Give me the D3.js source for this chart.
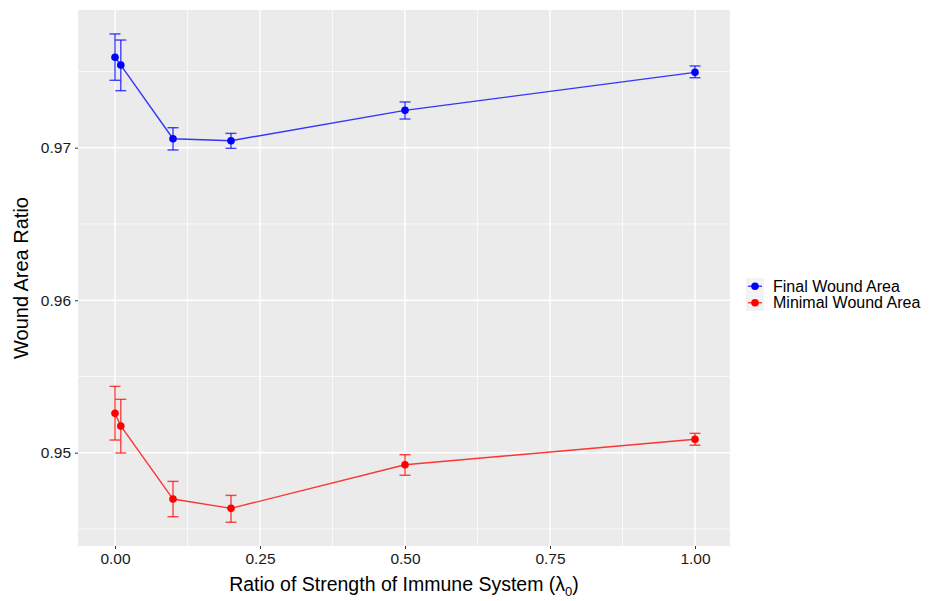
<!DOCTYPE html>
<html>
<head>
<meta charset="utf-8">
<script src="https://cdn.jsdelivr.net/npm/d3@7"></script>
<style>
  html, body { margin: 0; padding: 0; background: #fff; }
  svg { display: block; font-family: "Liberation Sans", Arial, Helvetica, sans-serif; }
</style>
</head>
<body>
<svg id="chart" width="936" height="601"></svg>
<script>
// ---- data ----
const lambda = [0, 0.01, 0.1, 0.2, 0.5, 1.0];
const finalMean = [0.97593, 0.97542, 0.97059, 0.97046, 0.97245, 0.97494];
const finalLo   = [0.97442, 0.97374, 0.96985, 0.96996, 0.97188, 0.97459];
const finalHi   = [0.97746, 0.97706, 0.97131, 0.97094, 0.97300, 0.97536];
const minMean   = [0.95258, 0.95175, 0.94696, 0.94635, 0.94921, 0.95088];
const minLo     = [0.95083, 0.94998, 0.94580, 0.94544, 0.94852, 0.95049];
const minHi     = [0.95435, 0.95350, 0.94812, 0.94720, 0.94987, 0.95127];
const seriesNames = ["Final Wound Area", "Minimal Wound Area"];
const seriesColors = ["#0000FF", "#FF0000"];
const xTicks = [0, 0.25, 0.5, 0.75, 1.0];
const xTickLabels = ["0.00", "0.25", "0.50", "0.75", "1.00"];
const xMinor = [0.125, 0.375, 0.625, 0.875];
const yTicks = [0.95, 0.96, 0.97];
const yTickLabels = ["0.95", "0.96", "0.97"];
const yMinor = [0.945, 0.955, 0.965, 0.975];

const series = [
  { name: seriesNames[0], color: seriesColors[0],
    pts: lambda.map((x, i) => ({ x, y: finalMean[i], lo: finalLo[i], hi: finalHi[i] })) },
  { name: seriesNames[1], color: seriesColors[1],
    pts: lambda.map((x, i) => ({ x, y: minMean[i], lo: minLo[i], hi: minHi[i] })) }
];

// ---- layout ----
const panel = { left: 78, right: 730, top: 10, bottom: 546 };
const svg = d3.select("#chart");

const x = d3.scaleLinear().domain([0, 1]).range([115, 695]);
const y = d3.scaleLinear().domain([0.95, 0.97]).range([452.7, 147.7]);

// panel background
svg.append("rect")
  .attr("x", panel.left).attr("y", panel.top)
  .attr("width", panel.right - panel.left).attr("height", panel.bottom - panel.top)
  .attr("fill", "#EBEBEB");

const grid = svg.append("g");
// minor grid
grid.selectAll(".xminor").data(xMinor).enter().append("line")
  .attr("x1", d => x(d)).attr("x2", d => x(d))
  .attr("y1", panel.top).attr("y2", panel.bottom)
  .attr("stroke", "#fff").attr("stroke-width", 0.7);
grid.selectAll(".yminor").data(yMinor).enter().append("line")
  .attr("y1", d => y(d)).attr("y2", d => y(d))
  .attr("x1", panel.left).attr("x2", panel.right)
  .attr("stroke", "#fff").attr("stroke-width", 0.7);
// major grid
grid.selectAll(".xmajor").data(xTicks).enter().append("line")
  .attr("x1", d => x(d)).attr("x2", d => x(d))
  .attr("y1", panel.top).attr("y2", panel.bottom)
  .attr("stroke", "#fff").attr("stroke-width", 1.4);
grid.selectAll(".ymajor").data(yTicks).enter().append("line")
  .attr("y1", d => y(d)).attr("y2", d => y(d))
  .attr("x1", panel.left).attr("x2", panel.right)
  .attr("stroke", "#fff").attr("stroke-width", 1.4);

// axes
const xAxis = d3.axisBottom(x).tickValues(xTicks)
  .tickFormat((d, i) => xTickLabels[i]).tickSize(3).tickPadding(4);
const gx = svg.append("g").attr("transform", `translate(0,${panel.bottom})`).call(xAxis);
gx.select(".domain").remove();
gx.selectAll(".tick line").attr("stroke", "#333").attr("stroke-width", 1);
gx.selectAll(".tick text").attr("fill", "#1a1a1a").attr("font-size", 15.5)
  .attr("font-family", "Liberation Sans, Arial, sans-serif");

const yAxis = d3.axisLeft(y).tickValues(yTicks)
  .tickFormat((d, i) => yTickLabels[i]).tickSize(3).tickPadding(4);
const gy = svg.append("g").attr("transform", `translate(${panel.left},0)`).call(yAxis);
gy.select(".domain").remove();
gy.selectAll(".tick line").attr("stroke", "#333").attr("stroke-width", 1);
gy.selectAll(".tick text").attr("fill", "#1a1a1a").attr("font-size", 15.5)
  .attr("font-family", "Liberation Sans, Arial, sans-serif");

// axis titles
const xt = svg.append("text")
  .attr("x", (panel.left + panel.right) / 2).attr("y", 591)
  .attr("text-anchor", "middle").attr("font-size", 19.5).attr("fill", "#000");
xt.append("tspan").text("Ratio of Strength of Immune System (λ");
xt.append("tspan").attr("font-size", 13).attr("dy", 5).text("0");
xt.append("tspan").attr("dy", -5).text(")");

svg.append("text")
  .attr("transform", `translate(28,${(panel.top + panel.bottom) / 2}) rotate(-90)`)
  .attr("text-anchor", "middle").attr("font-size", 20).attr("fill", "#000")
  .text("Wound Area Ratio");

// series
const line = d3.line().x(d => x(d.x)).y(d => y(d.y));
const capHalf = 5.5;
series.forEach(s => {
  const g = svg.append("g");
  g.append("path").datum(s.pts).attr("d", line)
    .attr("fill", "none").attr("stroke", s.color).attr("stroke-width", 1.4)
    .attr("stroke-opacity", 0.78);
  const eb = g.selectAll(".eb").data(s.pts).enter().append("g")
    .attr("stroke", s.color).attr("stroke-width", 1.4).attr("stroke-opacity", 0.72);
  eb.append("line").attr("x1", d => x(d.x)).attr("x2", d => x(d.x))
    .attr("y1", d => y(d.lo)).attr("y2", d => y(d.hi));
  eb.append("line").attr("x1", d => x(d.x) - capHalf).attr("x2", d => x(d.x) + capHalf)
    .attr("y1", d => y(d.lo)).attr("y2", d => y(d.lo));
  eb.append("line").attr("x1", d => x(d.x) - capHalf).attr("x2", d => x(d.x) + capHalf)
    .attr("y1", d => y(d.hi)).attr("y2", d => y(d.hi));
  g.selectAll(".pt").data(s.pts).enter().append("circle")
    .attr("cx", d => x(d.x)).attr("cy", d => y(d.y)).attr("r", 3.8)
    .attr("fill", s.color);
});

// legend
const leg = svg.append("g").attr("transform", "translate(746,278)");
const keyH = 16.5;
series.forEach((s, i) => {
  const row = leg.append("g").attr("transform", `translate(0,${i * keyH})`);
  row.append("rect").attr("x", 0).attr("y", 0).attr("width", 18).attr("height", keyH)
    .attr("fill", "#F2F2F2");
  row.append("line").attr("x1", 2).attr("x2", 16).attr("y1", keyH / 2).attr("y2", keyH / 2)
    .attr("stroke", s.color).attr("stroke-width", 1.4).attr("stroke-opacity", 0.78);
  row.append("circle").attr("cx", 9).attr("cy", keyH / 2).attr("r", 3.8).attr("fill", s.color);
  row.append("text").attr("x", 27).attr("y", keyH / 2 + 5.5)
    .attr("font-size", 16).attr("fill", "#000").text(s.name);
});
</script>
</body>
</html>
